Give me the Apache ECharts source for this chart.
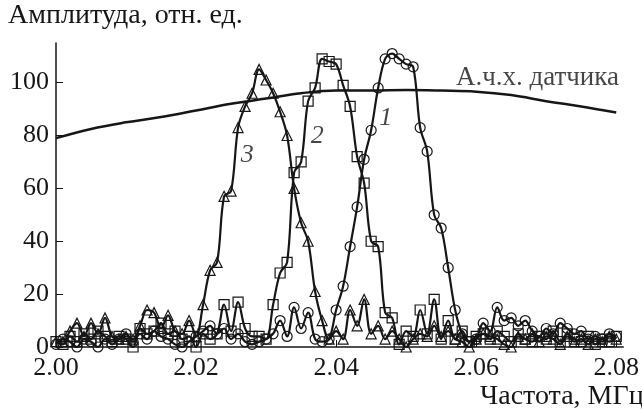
<!DOCTYPE html>
<html>
<head>
<meta charset="utf-8">
<script src="https://cdn.jsdelivr.net/npm/echarts@6/dist/echarts.min.js"></script>
<style>
  html, body { margin: 0; padding: 0; background: #fff; }
  #chart { width: 642px; height: 410px; }
</style>
</head>
<body>
<div id="chart"></div>
<script>
// frequency grid, MHz: 2.000 ... 2.080 step 0.001
var freqStart = 2.0, freqStep = 0.001;

// curve 1 (circles)
var curve1 = [1,3,2,0,3,2,0,3,1,3, 5,2,5,3,6,4,3,1,0,2,
              4,6,8,5,7,3,5,2,1,2, 3,5,10,4,15,7,13,3,2,3,
              14,23,38,53,71,82,98,109,111,109, 107,106,83,74,50,45,30,14,5,2,
              3,9,6,15,10,11,8,10,6,4, 7,5,9,7,5,6,3,4,3,5, 4];
// curve 2 (squares)
var curve2 = [2,1,4,2,5,3,6,4,2,4, 3,0,7,5,6,9,5,6,3,4,
              0,5,3,5,16,6,17,7,4,4, 3,16,28,32,66,70,93,98,109,108,
              107,99,91,72,62,40,38,13,11,1, 6,4,14,5,18,3,10,3,6,2,
              4,5,3,6,4,2,5,3,2,4, 3,6,2,5,3,2,4,1,3,2, 4];
// curve 3 (triangles)
var curve3 = [2,2,6,9,4,9,5,11,4,3, 4,3,8,14,13,7,12,6,5,10,
              4,16,29,32,57,59,83,91,96,105, 101,96,89,80,60,47,40,21,10,3,
              6,3,14,8,18,5,8,3,6,3, 0,3,5,4,8,4,6,3,2,0,
              3,5,4,3,1,0,4,3,5,2, 4,3,1,4,2,3,1,3,2,4, 3];

// sensor frequency response
var sensorFreq = [2.000,2.005,2.010,2.015,2.020,2.025,2.030,2.035,2.040,2.045,2.050,2.055,2.060,2.065,2.070,2.075,2.080];
var sensorResp = [79,82.5,85,87,89.5,92,94,96,97,97,97.2,97,96.6,95.3,93,91,88.7];

var xTicks = [2.00, 2.02, 2.04, 2.06, 2.08];
var yTicks = [0, 20, 40, 60, 80, 100];

// curve labels: [x, y, text]
var curveLabels = [[2.0471, 86.4, '1'], [2.0373, 79.6, '2'], [2.0273, 72.5, '3']];
var sensorLabel = [2.0571, 101.9, 'А.ч.х. датчика'];

function pairs(arr) {
    var out = [];
    for (var i = 0; i < arr.length; i++) {
        out.push([+(freqStart + i * freqStep).toFixed(3), arr[i]]);
    }
    return out;
}

var ink = '#161616';
var serif = '"Liberation Serif", "DejaVu Serif", serif';

function curveSeries(data, symbol, size) {
    return {
        type: 'line',
        data: pairs(data),
        smooth: 0.35,
        symbol: symbol,
        symbolSize: size,
        showAllSymbol: true,
        lineStyle: { color: ink, width: 2.2 },
        itemStyle: { color: 'rgba(0,0,0,0)', borderColor: ink, borderWidth: 1.2 },
        z: 3
    };
}

var chart = echarts.init(document.getElementById('chart'));
chart.setOption({
    backgroundColor: '#fff',
    animation: false,
    grid: { left: 56, right: 18, top: 43, bottom: 63 },
    xAxis: {
        type: 'value',
        min: 2.0,
        max: 2.081,
        axisLine: { lineStyle: { color: ink, width: 1.5 } },
        axisTick: { show: true, inside: true, length: 7, customValues: xTicks, lineStyle: { color: ink } },
        axisLabel: {
            customValues: xTicks,
            formatter: function (v) { return v.toFixed(2); },
            color: ink, fontFamily: serif, fontSize: 26, margin: 8
        },
        splitLine: { show: false }
    },
    yAxis: {
        type: 'value',
        min: 0,
        max: 115,
        axisLine: { show: true, lineStyle: { color: ink, width: 1.5 } },
        axisTick: { show: true, inside: true, length: 7, customValues: yTicks, lineStyle: { color: ink } },
        axisLabel: {
            customValues: yTicks,
            color: ink, fontFamily: serif, fontSize: 26, margin: 7
        },
        splitLine: { show: false }
    },
    graphic: [
        { type: 'text', left: 8, top: 2,
          style: { text: 'Амплитуда, отн. ед.', fill: ink, font: '28px ' + serif } },
        { type: 'text', left: 480, top: 383,
          style: { text: 'Частота, МГц', fill: ink, font: '28px ' + serif } }
    ],
    series: [
        {
            type: 'line',
            data: sensorFreq.map(function (f, i) { return [f, sensorResp[i]]; }),
            smooth: 0.4,
            symbol: 'none',
            lineStyle: { color: ink, width: 2.5 },
            z: 2
        },
        curveSeries(curve1, 'circle', 10),
        curveSeries(curve2, 'rect', 10),
        curveSeries(curve3, 'triangle', 10),
        {
            type: 'scatter',
            symbolSize: 0,
            silent: true,
            data: curveLabels,
            label: {
                show: true, position: 'inside',
                formatter: function (p) { return p.data[2]; },
                color: ink, fontFamily: serif, fontStyle: 'italic', fontSize: 26
            },
            z: 5
        },
        {
            type: 'scatter',
            symbolSize: 0,
            silent: true,
            data: [sensorLabel],
            label: {
                show: true, position: 'right', distance: 0,
                formatter: function (p) { return p.data[2]; },
                color: ink, fontFamily: serif, fontSize: 27
            },
            z: 5
        }
    ]
});
</script>
</body>
</html>
